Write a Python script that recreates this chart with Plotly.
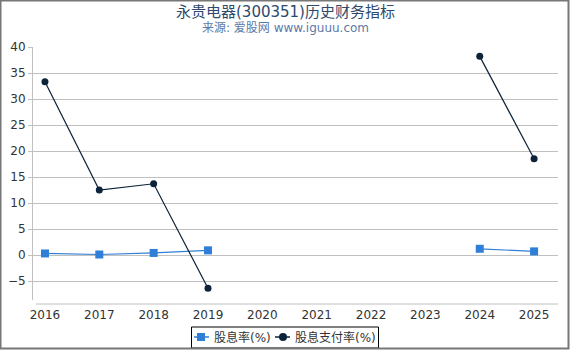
import plotly.graph_objects as go

years = ["2016", "2017", "2018", "2019", "2020", "2021", "2022", "2023", "2024", "2025"]
x_years = [2016, 2017, 2018, 2019, 2020, 2021, 2022, 2023, 2024, 2025]
dividend_yield = [0.3, 0.1, 0.4, 0.9, None, None, None, None, 1.2, 0.7]
payout_ratio = [33.3, 12.5, 13.7, -6.4, None, None, None, None, 38.2, 18.5]
y_ticks = [-5, 0, 5, 10, 15, 20, 25, 30, 35, 40]
series_names = ["股息率(%)", "股息支付率(%)"]
series_colors = ["#2f7ed8", "#0d233a"]

W, H = 570, 350
L, R, T, B = 33, 12, 47, 50
pw, ph = W - L - R, H - T - B

def px(xp):
    return (xp - L) / pw

def py(yp):
    return 1 - (yp - T) / ph

font = "DejaVu Sans, Noto Sans CJK SC, sans-serif"

fig = go.Figure()
fig.add_trace(go.Scatter(
    x=x_years, y=dividend_yield, name=series_names[0], mode="lines+markers",
    line=dict(color=series_colors[0], width=1.2),
    marker=dict(symbol="square", size=8, color=series_colors[0]),
    connectgaps=False, showlegend=False,
))
fig.add_trace(go.Scatter(
    x=x_years, y=payout_ratio, name=series_names[1], mode="lines+markers",
    line=dict(color=series_colors[1], width=1.2),
    marker=dict(symbol="circle", size=7, color=series_colors[1]),
    connectgaps=False, showlegend=False,
))

# custom legend (box, symbols, labels)
leg_y = 337
shapes = [
    dict(type="line", xref="paper", yref="paper", x0=px(36), x1=px(558),
         y0=py(304), y1=py(304), line=dict(color="#c0c0c0", width=1)),
    dict(type="rect", xref="paper", yref="paper", x0=px(191.5), x1=px(378.5),
         y0=py(348), y1=py(327), line=dict(color="#000000", width=1),
         fillcolor="white"),
    dict(type="line", xref="paper", yref="paper", x0=px(194), x1=px(209),
         y0=py(leg_y), y1=py(leg_y), line=dict(color=series_colors[0], width=1.5)),
    dict(type="rect", xref="paper", yref="paper", x0=px(197), x1=px(205),
         y0=py(leg_y + 4), y1=py(leg_y - 4), line=dict(width=0),
         fillcolor=series_colors[0]),
    dict(type="line", xref="paper", yref="paper", x0=px(275), x1=px(290),
         y0=py(leg_y), y1=py(leg_y), line=dict(color=series_colors[1], width=1.5)),
    dict(type="circle", xref="paper", yref="paper", x0=px(279), x1=px(287),
         y0=py(leg_y + 4), y1=py(leg_y - 4), line=dict(width=0),
         fillcolor=series_colors[1]),
    dict(type="rect", xref="paper", yref="paper", x0=px(0.5), x1=px(568.5),
         y0=py(348.5), y1=py(0.5), line=dict(color="#777777", width=2),
         fillcolor="rgba(0,0,0,0)", layer="above"),
]

annotations = [
    dict(text="永贵电器(300351)历史财务指标", xref="paper", yref="paper",
         x=px(285), y=py(12), xanchor="center", yanchor="middle", showarrow=False,
         font=dict(size=15, color="#2d4a6e", family=font)),
    dict(text="来源: 爱股网 www.iguuu.com", xref="paper", yref="paper",
         x=px(285), y=py(28), xanchor="center", yanchor="middle", showarrow=False,
         font=dict(size=12, color="#5b7aa8", family=font)),
    dict(text=series_names[0], xref="paper", yref="paper",
         x=px(212), y=py(leg_y), xanchor="left", yanchor="middle", showarrow=False,
         font=dict(size=12, color="#333333", family=font)),
    dict(text=series_names[1], xref="paper", yref="paper",
         x=px(293), y=py(leg_y), xanchor="left", yanchor="middle", showarrow=False,
         font=dict(size=12, color="#333333", family=font)),
]

fig.update_layout(
    width=W, height=H,
    margin=dict(l=L, r=R, t=T, b=B, autoexpand=False),
    paper_bgcolor="white", plot_bgcolor="white",
    font=dict(family=font, size=12, color="#333333"),
    showlegend=False,
    xaxis=dict(
        range=[2015.78, 2025.44], tickmode="array", tickvals=x_years, ticktext=years,
        showgrid=False, zeroline=False, showline=False,
        ticks="", ticklabelstandoff=6, tickfont=dict(size=12, color="#333333"),
    ),
    yaxis=dict(
        range=[-8.65, 40], tickmode="array", tickvals=y_ticks,
        showgrid=True, gridcolor="#c0c0c0", gridwidth=1,
        zeroline=False, showline=True, linecolor="#c0c0c0", linewidth=1,
        ticks="outside", ticklen=4, tickcolor="#c0c0c0",
        tickfont=dict(size=12, color="#333333"),
    ),
    annotations=annotations,
    shapes=shapes,
)

fig.write_html("out.html")
